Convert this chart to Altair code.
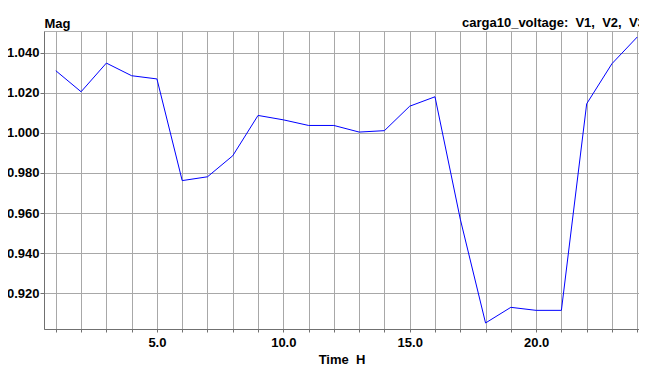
import altair as alt
import pandas as pd

hours = list(range(1, 25))
mag = [1.0310, 1.0205, 1.0348, 1.0285, 1.0269, 0.9762, 0.9781, 0.9886,
       1.0087, 1.0065, 1.0037, 1.0037, 1.0004, 1.0011, 1.0133, 1.0180,
       0.9570, 0.9052, 0.9130, 0.9115, 0.9115, 1.0145, 1.0345, 1.0478]
y_ticks = [0.92, 0.94, 0.96, 0.98, 1.00, 1.02, 1.04]
series_title = "carga10_voltage:\u00a0 V1,\u00a0 V2,\u00a0 V3"

df = pd.DataFrame({"hour": hours, "mag": mag})
FONT = "Liberation Sans"

line = alt.Chart(df).mark_line(color="#0000ff", strokeWidth=1, clip=True).encode(
    x=alt.X("hour:Q",
            scale=alt.Scale(domain=[0.533, 24.07], nice=False, zero=False),
            axis=alt.Axis(values=hours, title="Time_H",
                          labelExpr="datum.value % 5 == 0 ? format(datum.value, '.1f') : ''",
                          tickSize=3, labelPadding=4, titlePadding=4,
                          labelFlush=False)),
    y=alt.Y("mag:Q",
            scale=alt.Scale(domain=[0.9022, 1.0508], nice=False, zero=False),
            axis=alt.Axis(values=y_ticks, format=".3f", title="Mag",
                          tickSize=4, labelPadding=1,
                          titleAngle=0, titleX=0, titleY=-4,
                          titleAlign="left", titleBaseline="alphabetic")),
)

label = alt.Chart(pd.DataFrame({"t": [series_title]})).mark_text(
    align="left", baseline="alphabetic", font=FONT, fontSize=13,
    fontWeight="bold", color="black"
).encode(text="t:N", x=alt.value(418), y=alt.value(-4))

chart = alt.layer(line, label).properties(
    width=595, height=298,
    padding={"left": 36, "top": 23, "right": 0, "bottom": 40},
    autosize=alt.AutoSizeParams(type="none"),
).configure_axis(
    labelFont=FONT, titleFont=FONT, labelFontSize=13, titleFontSize=13,
    labelFontWeight="bold", titleFontWeight="bold",
    labelColor="black", titleColor="black",
    domainColor="#707070", tickColor="#707070",
    gridColor="#a8a8a8", gridOpacity=1, gridWidth=1,
).configure_view(stroke="#b0b0b0", strokeWidth=1)

chart.save("out.html", embed_options={"renderer": "svg", "actions": False})
